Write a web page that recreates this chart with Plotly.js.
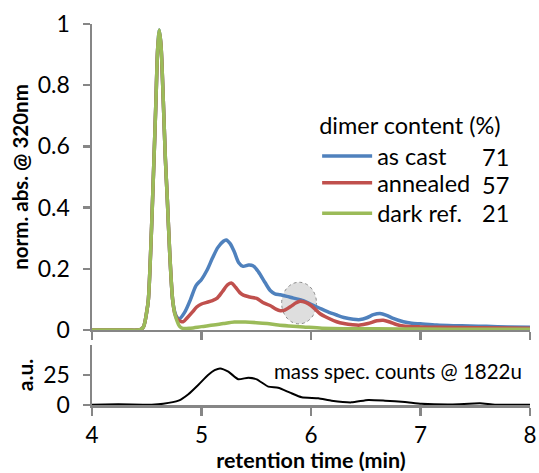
<!DOCTYPE html>
<html>
<head>
<meta charset="utf-8">
<script src="https://cdn.plot.ly/plotly-3.0.1.min.js"></script>
<style>html,body{margin:0;padding:0;background:#fff;}#chart{width:539px;height:473px;}</style>
</head>
<body>
<div id="chart"></div>
<script>
// ---- data ----
const seriesNames = ["as cast", "annealed", "dark ref."];
const dimerContent = ["71", "57", "21"];
const seriesColors = ["#4F81BD", "#C0504D", "#9BBB59"];

const asCastX = [4.0,4.3,4.44,4.47,4.5,4.515,4.535,4.553,4.57,4.584,4.6,4.615,4.63,4.651,4.67,4.688,4.71,4.736,4.755,4.775,4.8,4.85,4.9,4.95,5.0,5.05,5.1,5.15,5.2,5.225,5.26,5.3,5.34,5.38,5.43,5.47,5.52,5.58,5.63,5.67,5.72,5.78,5.84,5.93,6.0,6.08,6.15,6.234,6.3,6.386,6.45,6.51,6.57,6.63,6.69,6.75,6.843,6.92,7.0,7.147,7.3,7.45,7.6,7.8,8.0];
const asCastY = [0,0,0.001,0.01,0.06,0.1,0.25,0.425,0.6,0.75,0.92,0.98,0.93,0.75,0.56,0.425,0.25,0.1,0.06,0.042,0.037,0.06,0.1,0.145,0.165,0.195,0.235,0.27,0.29,0.294,0.283,0.255,0.22,0.208,0.212,0.21,0.19,0.155,0.128,0.118,0.115,0.11,0.104,0.096,0.084,0.071,0.06,0.049,0.041,0.035,0.034,0.04,0.05,0.054,0.048,0.038,0.027,0.022,0.02,0.016,0.014,0.013,0.012,0.01,0.009];

const annealedX = [4.0,4.3,4.44,4.47,4.5,4.515,4.535,4.553,4.57,4.584,4.6,4.615,4.63,4.651,4.67,4.688,4.71,4.736,4.755,4.78,4.81,4.834,4.87,4.92,4.956,5.0,5.047,5.1,5.14,5.19,5.24,5.276,5.31,5.35,5.382,5.44,5.504,5.56,5.626,5.68,5.72,5.76,5.82,5.86,5.9,5.95,6.0,6.08,6.15,6.234,6.3,6.38,6.447,6.52,6.6,6.66,6.72,6.78,6.843,7.0,7.147,7.5,8.0];
const annealedY = [0,0,0.001,0.01,0.06,0.1,0.25,0.425,0.6,0.75,0.92,0.975,0.93,0.75,0.56,0.425,0.25,0.1,0.055,0.035,0.028,0.027,0.04,0.06,0.075,0.085,0.09,0.096,0.103,0.125,0.148,0.153,0.14,0.122,0.114,0.108,0.103,0.09,0.08,0.068,0.063,0.065,0.078,0.088,0.094,0.09,0.08,0.054,0.04,0.027,0.021,0.017,0.016,0.021,0.03,0.032,0.026,0.018,0.013,0.01,0.009,0.007,0.006];

const darkRefX = [4.0,4.3,4.44,4.47,4.5,4.515,4.535,4.553,4.57,4.584,4.6,4.615,4.63,4.651,4.67,4.688,4.71,4.736,4.755,4.773,4.8,4.83,4.9,5.0,5.11,5.2,5.3,5.4,5.5,5.6,5.7,5.8,5.93,6.1,6.3,6.6,7.0,7.5,8.0];
const darkRefY = [0,0,0.001,0.01,0.06,0.1,0.25,0.425,0.6,0.75,0.92,0.98,0.93,0.75,0.56,0.425,0.25,0.1,0.055,0.033,0.012,0.005,0.006,0.011,0.016,0.021,0.026,0.026,0.024,0.021,0.016,0.013,0.01,0.006,0.004,0.004,0.003,0.002,0.002];

const massX = [4.0,4.24,4.545,4.65,4.79,4.88,4.97,5.06,5.12,5.17,5.245,5.336,5.427,5.504,5.61,5.70,5.808,5.915,6.067,6.188,6.37,6.523,6.676,6.858,7.01,7.28,7.543,7.68,8.0];
const massY = [0.3,0.6,0.3,1,3.6,9,16.7,25,29,30.5,27.8,21.4,22.8,21.4,15.3,14.4,10.3,6.4,5.6,3.6,2.2,4.2,3.6,2.5,1.1,0.5,1.4,0.3,0.3];

const xTicks = [4, 5, 6, 7, 8];
const absTicks = [0, 0.2, 0.4, 0.6, 0.8, 1];
const massTicks = [0, 25];
const massLabel = "mass spec. counts @ 1822u";
const legendTitle = "dimer content (%)";

// ---- chart ----
const FONT = "Lato, 'Open Sans', sans-serif";
const AX = "#868686";
const TICKSIZE = 23;
const LEGSIZE = 23.5;
const seriesX = [asCastX, annealedX, darkRefX];
const seriesY = [asCastY, annealedY, darkRefY];
const legendIds = ["legend", "legend2", "legend3"];
const rowY = [0.566, 0.474, 0.381]; // legend rows, in units of the absorbance axis

const traces = seriesNames.map((n, i) => ({
  type: "scatter", mode: "lines", name: n, legend: legendIds[i],
  x: seriesX[i], y: seriesY[i], xaxis: "x2", yaxis: "y2",
  line: {color: seriesColors[i], width: 3.5, shape: "spline", smoothing: 0.8}
}));
traces.push({
  type: "scatter", mode: "lines", name: massLabel, showlegend: false,
  x: massX, y: massY, xaxis: "x", yaxis: "y",
  line: {color: "#000", width: 2, shape: "spline", smoothing: 0.5}
});

const axBase = {
  showline: true, linecolor: AX, linewidth: 2.5, showgrid: false, zeroline: false,
  ticks: "outside", tickcolor: AX, tickwidth: 2.5, ticklen: 7,
  tickfont: {family: FONT, size: TICKSIZE, color: "#000"}
};

const annotations = dimerContent.map((v, i) => ({
  xref: "x2", yref: "y2", x: 7.83, y: rowY[i],
  text: v, showarrow: false, xanchor: "right", yanchor: "middle",
  font: {family: FONT, size: LEGSIZE, color: "#000"}
}));
annotations.push({
  xref: "x", yref: "y", x: 7.945, y: 28.3, text: massLabel, showarrow: false,
  xanchor: "right", yanchor: "middle", font: {family: FONT, size: 20.5, color: "#000"}
});

const PLOT_H = 381; // plot area height in px (473 - 24 - 68)
const legBase = {
  x: 0.514, xanchor: "left", bgcolor: "rgba(0,0,0,0)", borderwidth: 0,
  itemwidth: 50, font: {family: FONT, size: LEGSIZE, color: "#000"}
};
function rowPaper(v) { return 0.1969 + v * (1 - 0.1969); }

const layout = {
  width: 539, height: 473,
  margin: {l: 92, r: 9, t: 24, b: 68},
  paper_bgcolor: "#fff", plot_bgcolor: "#fff",
  font: {family: FONT, color: "#000"},
  showlegend: true,
  legend: Object.assign({}, legBase, {
    y: rowPaper(rowY[0]) - 22 / PLOT_H, yanchor: "bottom",
    title: {text: legendTitle, side: "top", font: {family: FONT, size: LEGSIZE, color: "#000"}}
  }),
  legend2: Object.assign({}, legBase, {y: rowPaper(rowY[1]) + 2 / PLOT_H, yanchor: "middle"}),
  legend3: Object.assign({}, legBase, {y: rowPaper(rowY[2]), yanchor: "middle"}),
  xaxis: Object.assign({}, axBase, {
    domain: [0, 1], anchor: "y", range: [4, 8], tickvals: xTicks, ticklen: 8,
    ticklabelstandoff: 0, tickfont: {family: FONT, size: 22.5, color: "#000"},
    title: {text: "<b>retention time (min)</b>", font: {family: FONT, size: 21.5, color: "#000"}, standoff: 4}
  }),
  yaxis: Object.assign({}, axBase, {
    domain: [0, 0.1575], anchor: "x", range: [0, 50], tickvals: massTicks,
    ticklabelstandoff: 8,
    title: {text: "<b>a.u.</b>", font: {family: FONT, size: 21, color: "#000"}, standoff: 4}
  }),
  xaxis2: Object.assign({}, axBase, {
    domain: [0, 1], anchor: "y2", range: [4, 8], tickvals: xTicks, ticklen: 8,
    matches: "x", showticklabels: false
  }),
  yaxis2: Object.assign({}, axBase, {
    domain: [0.1969, 1], anchor: "x2", range: [0, 1], tickvals: absTicks,
    ticklabelstandoff: 8,
    title: {text: "<b>norm. abs. @ 320nm</b>", font: {family: FONT, size: 20.5, color: "#000"}, standoff: 4}
  }),
  shapes: [{
    type: "circle", xref: "x2", yref: "y2", x0: 5.732, x1: 6.05, y0: 0.02, y1: 0.156,
    fillcolor: "rgba(160,160,160,0.35)", line: {color: "#8a8a8a", width: 1, dash: "dot"}, layer: "below"
  }],
  annotations: annotations
};

Plotly.newPlot("chart", traces, layout, {displayModeBar: false, staticPlot: true});
</script>
</body>
</html>
